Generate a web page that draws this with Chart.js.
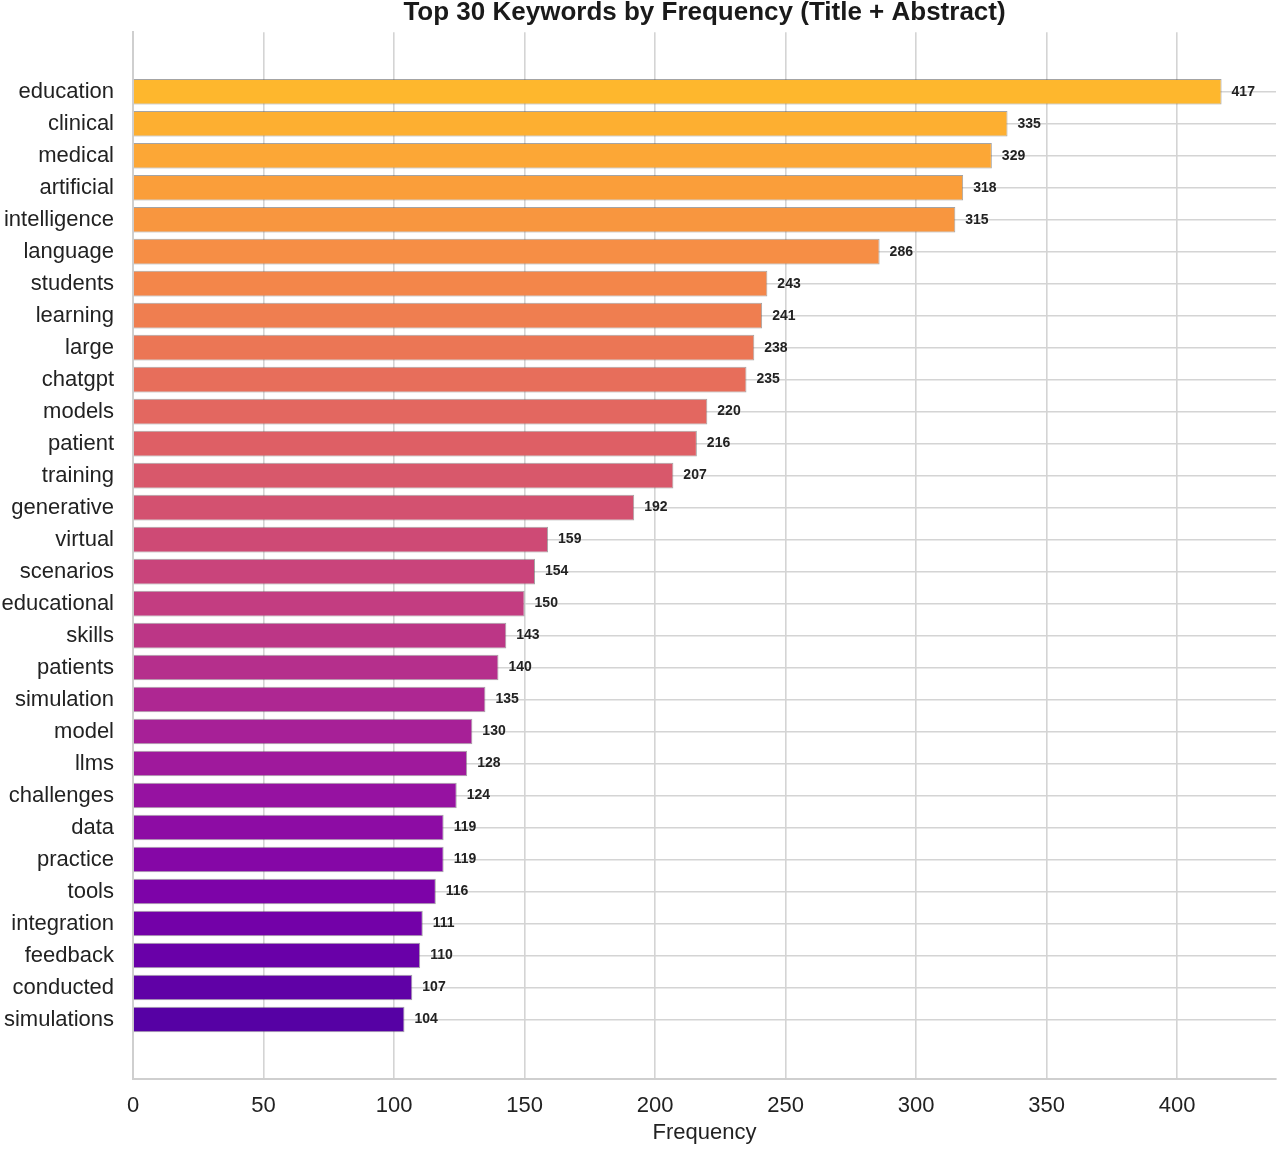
<!DOCTYPE html>
<html>
<head>
<meta charset="utf-8">
<script src="https://cdn.jsdelivr.net/npm/chart.js@4.4.1/dist/chart.umd.min.js"></script>
<style>
  html, body { margin: 0; padding: 0; background: #fff; }
  canvas { display: block; }
</style>
</head>
<body>
<canvas id="kwChart" width="1280" height="1149"></canvas>
<script>
// keywords, most frequent first
const keywords = [
  "education", "clinical", "medical", "artificial", "intelligence", "language",
  "students", "learning", "large", "chatgpt", "models", "patient", "training",
  "generative", "virtual", "scenarios", "educational", "skills", "patients",
  "simulation", "model", "llms", "challenges", "data", "practice", "tools",
  "integration", "feedback", "conducted", "simulations"
];
const counts = [
  417, 335, 329, 318, 315, 286, 243, 241, 238, 235, 220, 216, 207, 192, 159,
  154, 150, 143, 140, 135, 130, 128, 124, 119, 119, 116, 111, 110, 107, 104
];
const xTicks = [0, 50, 100, 150, 200, 250, 300, 350, 400];

const chartTitle = "Top 30 Keywords by Frequency (Title + Abstract)";
const xTitle = "Frequency";

// plasma colormap anchors (every 0.05)
const plasma = [
  "#0d0887", "#2a0593", "#41049d", "#5601a4", "#6a00a8", "#7e03a8", "#8f0da4",
  "#a11b9b", "#b12a90", "#bf3984", "#cc4778", "#d6556d", "#e16462", "#ea7457",
  "#f2844b", "#f89540", "#fca636", "#feb72d", "#fcce25", "#f7e225", "#f0f921"
];
function hexRgb(h) {
  return [parseInt(h.slice(1, 3), 16), parseInt(h.slice(3, 5), 16), parseInt(h.slice(5, 7), 16)];
}
function plasmaAt(t) {
  const p = t * 20;
  const i = Math.min(19, Math.floor(p));
  const f = p - i;
  const a = hexRgb(plasma[i]), b = hexRgb(plasma[i + 1]);
  const c = a.map((v, k) => Math.round(v + (b[k] - v) * f));
  return `rgb(${c[0]},${c[1]},${c[2]})`;
}
const barColors = keywords.map((_, i) => plasmaAt(0.85 - i * 0.7 / (keywords.length - 1)));

const FONT = '"Liberation Sans", Arial, Helvetica, sans-serif';
const gridColor = '#d4d4d4';

const valueLabels = {
  id: 'valueLabels',
  afterDatasetsDraw(chart) {
    const ctx = chart.ctx;
    const meta = chart.getDatasetMeta(0);
    ctx.save();
    ctx.font = 'bold 14px ' + FONT;
    ctx.fillStyle = '#222';
    ctx.textAlign = 'left';
    ctx.textBaseline = 'middle';
    meta.data.forEach((bar, i) => {
      ctx.fillText(String(counts[i]), bar.x + 10, bar.y);
    });
    ctx.restore();
  }
};

const topTitle = {
  id: 'topTitle',
  afterDraw(chart) {
    const ctx = chart.ctx;
    const area = chart.chartArea;
    ctx.save();
    ctx.font = 'bold 26px ' + FONT;
    ctx.fillStyle = '#1a1a1a';
    ctx.textAlign = 'center';
    ctx.textBaseline = 'middle';
    ctx.fillText(chartTitle, (area.left + area.right) / 2, 13);
    ctx.restore();
  }
};

new Chart(document.getElementById('kwChart').getContext('2d'), {
  type: 'bar',
  data: {
    datasets: [{
      data: keywords.map((k, i) => ({ x: counts[i], y: i })),
      backgroundColor: barColors,
      borderColor: 'rgba(90,90,90,0.55)',
      borderWidth: 1,
      barPercentage: 0.8,
      categoryPercentage: 1.0
    }]
  },
  options: {
    indexAxis: 'y',
    responsive: false,
    animation: false,
    devicePixelRatio: 1,
    layout: { padding: { top: 32, right: 4, left: 0, bottom: 0 } },
    plugins: {
      legend: { display: false },
      tooltip: { enabled: false },
      title: { display: false }
    },
    scales: {
      x: {
        type: 'linear',
        position: 'bottom',
        min: 0,
        max: 437.85,
        afterBuildTicks: s => { s.ticks = xTicks.map(v => ({ value: v })); },
        afterFit: s => { s.height = 70; },
        grid: { color: gridColor, lineWidth: 1.6, drawTicks: false },
        border: { display: true, color: '#cfcfcf', width: 2 },
        ticks: { padding: 14, color: '#222', font: { family: FONT, size: 22 } },
        title: {
          display: true, text: xTitle, color: '#222',
          font: { family: FONT, size: 22 }, padding: { top: 0, bottom: 3 }
        }
      },
      y: {
        type: 'linear',
        position: 'left',
        reverse: true,
        offset: false,
        min: -1.86,
        max: 30.86,
        afterBuildTicks: s => { s.ticks = keywords.map((_, i) => ({ value: i })); },
        afterFit: s => { s.width = 133; },
        grid: { color: gridColor, lineWidth: 1.6, drawTicks: false, offset: false },
        border: { display: true, color: '#cfcfcf', width: 2 },
        ticks: {
          padding: 19,
          color: '#222',
          font: { family: FONT, size: 22 },
          autoSkip: false,
          callback: v => keywords[v] ?? ''
        }
      }
    }
  },
  plugins: [valueLabels, topTitle]
});
</script>
</body>
</html>
